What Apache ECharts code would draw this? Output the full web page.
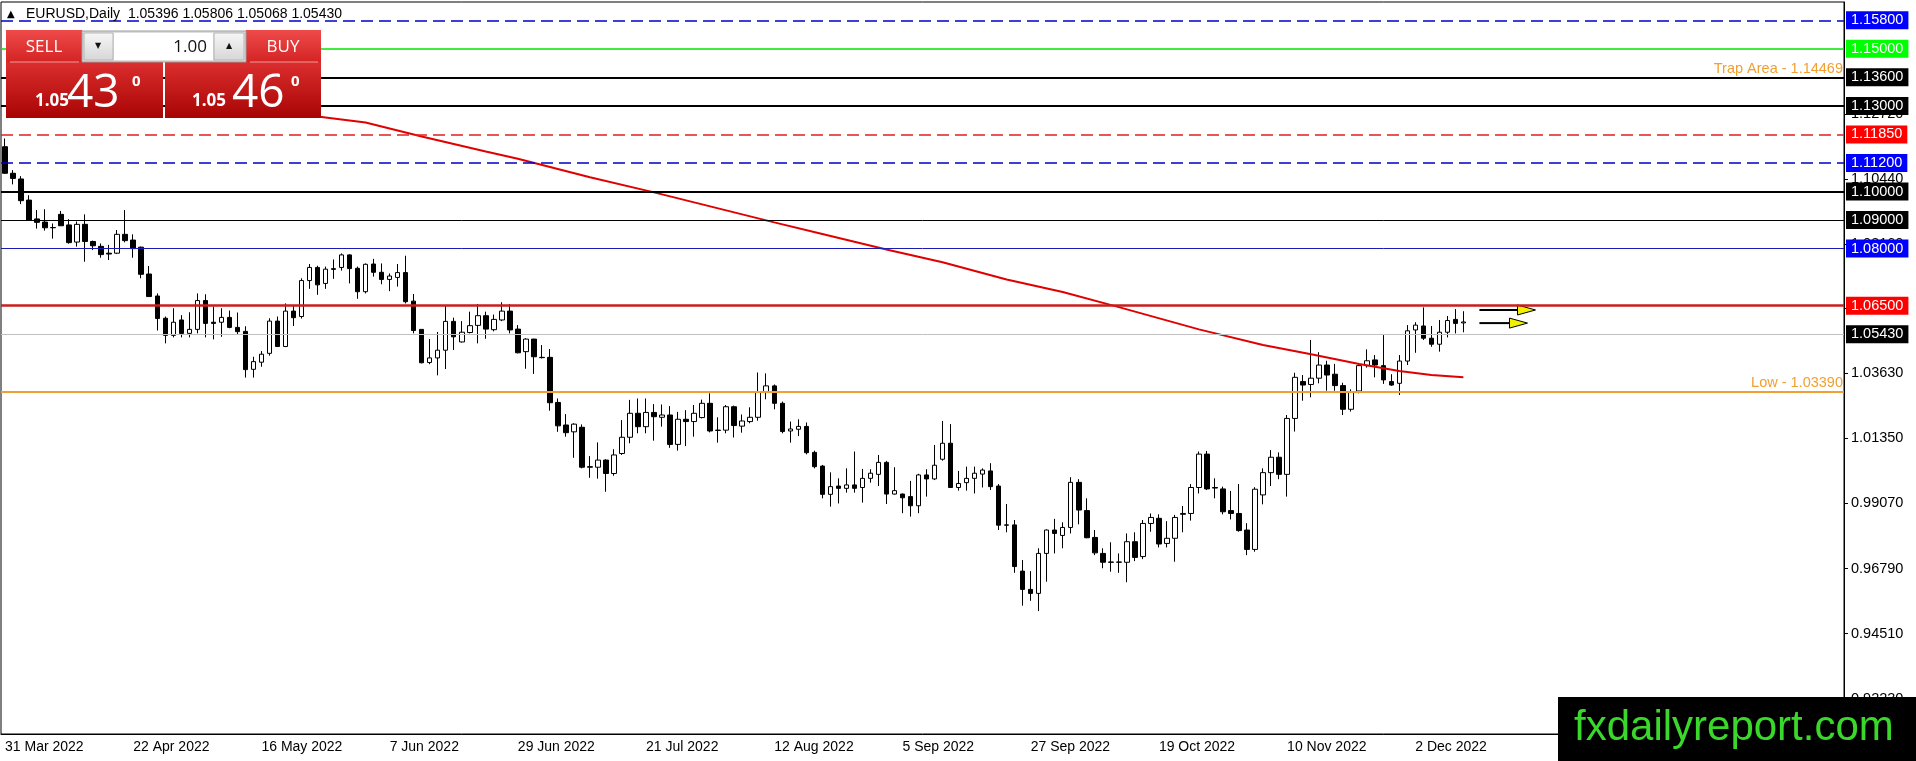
<!DOCTYPE html>
<html>
<head>
<meta charset="utf-8">
<title>EURUSD Daily</title>
<style>
  html, body { margin: 0; padding: 0; background: #fff; }
  #chart { width: 1916px; height: 761px; }
</style>
</head>
<body>
<div id="chart"></div>
<script src="https://cdn.jsdelivr.net/npm/echarts@6/dist/echarts.min.js"></script>
<script>
// daily bars (31 Mar 2022 .. Dec 2022)
var open = [
  1.1157,1.1064,1.1044,1.0970,1.0904,1.0893,1.0874,1.0920,1.0883,1.0823,
  1.0885,1.0825,1.0808,1.0784,1.0784,1.0850,1.0830,1.0805,1.0711,1.0634,
  1.0556,1.0496,1.0550,1.0503,1.0517,1.0618,1.0542,1.0542,1.0559,1.0524,
  1.0510,1.0377,1.0402,1.0433,1.0546,1.0457,1.0581,1.0562,1.0688,1.0734,
  1.0678,1.0727,1.0734,1.0778,1.0731,1.0649,1.0746,1.0717,1.0692,1.0699,
  1.0716,1.0616,1.0517,1.0401,1.0417,1.0444,1.0545,1.0473,1.0506,1.0531,
  1.0565,1.0516,1.0550,1.0581,1.0518,1.0439,1.0483,1.0419,1.0419,1.0261,
  1.0182,1.0158,1.0174,1.0036,1.0034,1.0059,1.0012,1.0082,1.0139,1.0223,
  1.0176,1.0226,1.0209,1.0217,1.0114,1.0202,1.0194,1.0208,1.0258,1.0164,
  1.0164,1.0246,1.0178,1.0194,1.0209,1.0296,1.0319,1.0258,1.0161,1.0167,
  1.0177,1.0086,1.0038,0.9939,0.9968,0.9960,0.9972,0.9963,0.9995,1.0009,
  1.0051,0.9940,0.9940,0.9931,0.9899,1.0007,0.9993,1.0062,1.0118,0.9963,
  0.9980,0.9995,1.0010,1.0021,0.9968,0.9832,0.9832,0.9670,0.9606,0.9592,
  0.9732,0.9814,0.9795,0.9823,0.9981,0.9882,0.9788,0.9732,0.9702,0.9701,
  0.9701,0.9773,0.9721,0.9837,0.9855,0.9767,0.9785,0.9869,0.9872,0.9963,
  1.0080,0.9963,0.9958,0.9882,0.9872,0.9814,0.9746,0.9937,1.0015,1.0069,
  1.0009,1.0205,1.0334,1.0324,1.0346,1.0392,1.0360,1.0320,1.0237,1.0301,
  1.0390,1.0410,1.0390,1.0334,1.0328,1.0406,1.0515,1.0529,1.0486,1.0465,
  1.0507,1.0552,1.05396
];
var high = [
  1.1186,1.1075,1.1054,1.0987,1.0935,1.0938,1.0888,1.0932,1.0903,1.0895,
  1.0920,1.0828,1.0818,1.0813,1.0865,1.0935,1.0850,1.0807,1.0739,1.0643,
  1.0562,1.0591,1.0567,1.0577,1.0643,1.0640,1.0597,1.0591,1.0583,1.0576,
  1.0528,1.0421,1.0441,1.0556,1.0562,1.0608,1.0599,1.0696,1.0746,1.0740,
  1.0737,1.0762,1.0783,1.0780,1.0737,1.0748,1.0764,1.0748,1.0713,1.0746,
  1.0775,1.0641,1.0518,1.0483,1.0508,1.0599,1.0558,1.0546,1.0579,1.0606,
  1.0579,1.0569,1.0612,1.0606,1.0532,1.0486,1.0484,1.0462,1.0448,1.0275,
  1.0220,1.0188,1.0184,1.0073,1.0121,1.0062,1.0097,1.0199,1.0270,1.0275,
  1.0275,1.0255,1.0254,1.0248,1.0228,1.0234,1.0252,1.0271,1.0293,1.0209,
  1.0252,1.0250,1.0219,1.0244,1.0366,1.0363,1.0324,1.0264,1.0194,1.0202,
  1.0191,1.0092,1.0042,1.0016,0.9995,1.0030,1.0089,1.0028,1.0027,1.0077,
  1.0056,1.0034,0.9942,0.9986,1.0011,1.0027,1.0112,1.0196,1.0185,1.0021,
  1.0036,1.0036,1.0030,1.0048,0.9975,0.9905,0.9849,0.9709,0.9670,0.9750,
  0.9816,0.9853,0.9841,0.9999,0.9992,0.9925,0.9814,0.9750,0.9771,0.9732,
  0.9802,0.9806,0.9849,0.9872,0.9869,0.9845,0.9867,0.9898,0.9975,1.0089,
  1.0091,0.9995,0.9966,0.9951,0.9975,0.9838,0.9964,1.0030,1.0094,1.0086,
  1.0217,1.0365,1.0357,1.0480,1.0437,1.0407,1.0396,1.0330,1.0307,1.0396,
  1.0447,1.0427,1.0497,1.0360,1.0427,1.0532,1.0542,1.0594,1.0529,1.0550,
  1.0564,1.0588,1.05806
];
var low = [
  1.1062,1.1025,1.0956,1.0899,1.0870,1.0863,1.0835,1.0880,1.0817,1.0807,
  1.0754,1.0795,1.0768,1.0760,1.0781,1.0822,1.0768,1.0696,1.0632,1.0513,
  1.0468,1.0489,1.0489,1.0489,1.0503,1.0489,1.0482,1.0491,1.0521,1.0500,
  1.0348,1.0348,1.0386,1.0425,1.0455,1.0455,1.0529,1.0555,1.0659,1.0638,
  1.0659,1.0694,1.0723,1.0678,1.0624,1.0643,1.0702,1.0675,1.0651,1.0667,
  1.0608,1.0503,1.0398,1.0395,1.0356,1.0378,1.0445,1.0471,1.0503,1.0468,
  1.0484,1.0510,1.0546,1.0503,1.0433,1.0379,1.0361,1.0415,1.0232,1.0158,
  1.0141,1.0067,1.0030,0.9997,0.9994,0.9948,1.0004,1.0077,1.0118,1.0153,
  1.0153,1.0127,1.0176,1.0102,1.0092,1.0108,1.0141,1.0205,1.0156,1.0120,
  1.0153,1.0138,1.0155,1.0188,1.0197,1.0272,1.0237,1.0153,1.0120,1.0143,
  1.0079,1.0030,0.9925,0.9896,0.9907,0.9945,0.9945,0.9910,0.9980,0.9968,
  0.9905,0.9938,0.9873,0.9861,0.9873,0.9931,0.9989,1.0057,0.9963,0.9952,
  0.9952,0.9942,0.9963,0.9954,0.9814,0.9806,0.9664,0.9549,0.9566,0.9530,
  0.9633,0.9732,0.9750,0.9802,0.9834,0.9785,0.9726,0.9680,0.9668,0.9664,
  0.9631,0.9705,0.9712,0.9808,0.9753,0.9753,0.9703,0.9806,0.9847,0.9942,
  0.9954,0.9925,0.9869,0.9851,0.9808,0.9726,0.9738,0.9904,0.9968,0.9992,
  0.9931,1.0159,1.0267,1.0279,1.0328,1.0302,1.0302,1.0217,1.0229,1.0293,
  1.0383,1.0349,1.0326,1.0319,1.0287,1.0392,1.0435,1.0480,1.0456,1.0439,
  1.0489,1.0503,1.05068
];
var close = [
  1.1064,1.1046,1.0968,1.0900,1.0892,1.0873,1.0873,1.0880,1.0821,1.0885,
  1.0825,1.0810,1.0779,1.0781,1.0850,1.0828,1.0800,1.0710,1.0632,1.0555,
  1.0496,1.0542,1.0503,1.0517,1.0618,1.0538,1.0538,1.0559,1.0524,1.0509,
  1.0376,1.0404,1.0430,1.0546,1.0457,1.0581,1.0558,1.0688,1.0734,1.0673,
  1.0728,1.0730,1.0778,1.0730,1.0649,1.0745,1.0717,1.0692,1.0704,1.0716,
  1.0614,1.0513,1.0400,1.0417,1.0444,1.0545,1.0491,1.0507,1.0530,1.0565,
  1.0518,1.0552,1.0581,1.0515,1.0435,1.0483,1.0421,1.0418,1.0260,1.0179,
  1.0155,1.0185,1.0034,1.0034,1.0059,1.0012,1.0077,1.0139,1.0223,1.0176,
  1.0226,1.0211,1.0217,1.0114,1.0202,1.0194,1.0223,1.0258,1.0161,1.0163,
  1.0246,1.0180,1.0196,1.0209,1.0296,1.0319,1.0258,1.0159,1.0168,1.0177,
  1.0085,1.0036,0.9939,0.9966,0.9960,0.9972,0.9960,0.9995,1.0013,1.0051,
  0.9940,0.9952,0.9927,0.9899,1.0007,0.9993,1.0041,1.0118,0.9963,0.9977,
  0.9995,1.0013,1.0024,0.9966,0.9831,0.9831,0.9686,0.9606,0.9592,0.9732,
  0.9814,0.9802,0.9823,0.9981,0.9884,0.9787,0.9734,0.9701,0.9701,0.9702,
  0.9773,0.9718,0.9837,0.9858,0.9765,0.9785,0.9858,0.9872,0.9963,1.0080,
  0.9958,0.9961,0.9878,0.9872,0.9812,0.9746,0.9957,1.0015,1.0069,1.0009,
  1.0205,1.0349,1.0322,1.0346,1.0392,1.0357,1.0320,1.0237,1.0299,1.0390,
  1.0407,1.0392,1.0340,1.0322,1.0406,1.0512,1.0532,1.0486,1.0465,1.0507,
  1.0548,1.0538,1.05430
];

// moving average, points (bar index, price)
var maBar   = [38, 40, 45, 52, 60, 64, 73, 81, 96, 102, 110, 117, 125, 132, 139, 149, 157, 163, 169, 174, 178, 182];
var maValue = [1.1266, 1.1259, 1.1242, 1.1193, 1.1140, 1.1115, 1.1050, 1.0997, 1.0892, 1.0851, 1.0797,
               1.0752, 1.0692, 1.0648, 1.0595, 1.0517, 1.0462, 1.0430, 1.0396, 1.0371, 1.0357, 1.0349];

// date labels, one every 16 bars
var dateLabels = ['31 Mar 2022', '22 Apr 2022', '16 May 2022', '7 Jun 2022', '29 Jun 2022', '21 Jul 2022',
                  '12 Aug 2022', '5 Sep 2022', '27 Sep 2022', '19 Oct 2022', '10 Nov 2022', '2 Dec 2022'];

// price scale ticks
var priceTicks = [1.1272, 1.1044, 1.0816, 1.0591, 1.0363, 1.0135, 0.9907, 0.9679, 0.9451, 0.9223];

// horizontal levels drawn on the chart
var levelPrice = [1.158, 1.15, 1.14469, 1.136, 1.13, 1.1185, 1.112, 1.10, 1.09, 1.08, 1.065, 1.0543, 1.0339];
var levelText  = ['1.15800', '1.15000', 'Trap Area - 1.14469', '1.13600', '1.13000', '1.11850', '1.11200',
                  '1.10000', '1.09000', '1.08000', '1.06500', '1.05430', 'Low - 1.03390'];

// arrows after the last bar: [from bar, to bar, price]
var arrows = [[184, 191, 1.0585], [184, 190, 1.0539]];

var FONT = 'Liberation Sans';
var SLOTS = 230;   // bars + empty space on the right (chart shift)

var slots = [];
for (var i = 0; i < SLOTS; i++) slots.push('b' + i);

var candles = open.map(function (o, i) { return [o, close[i], low[i], high[i]]; });
var maData = maBar.map(function (b, i) { return [b, maValue[i]]; });

// styles for the level lines
var lineColor = ['#0000c8', '#00e600', '#f0a030', '#000', '#000', '#e02020', '#0000c8', '#000', '#000', '#1a1ab4', '#c81e1e', '#c0c0c0', '#f0a030'];
var lineWidth = [1.5, 1.5, 2, 2, 2, 1.5, 1.5, 2, 1, 1, 2.5, 1, 2];
var lineDash  = [true, false, false, false, false, true, true, false, false, false, false, false, false];
var boxColor  = ['#0000ff', '#00ff00', null, '#000', '#000', '#ff0000', '#0000ff', '#000', '#000', '#0000ff', '#ff0000', '#000', null];

var levelLines = levelPrice.map(function (p, i) {
  var lbl;
  if (boxColor[i]) {
    lbl = { show: true, position: 'end', distance: 2, formatter: levelText[i], color: '#fff',
            backgroundColor: boxColor[i], padding: [2, 5, 1, 5], fontSize: 14.5, fontFamily: FONT };
  } else {
    lbl = { show: true, position: 'insideEndTop', distance: 1, formatter: levelText[i], color: '#f0a030',
            fontSize: 14.5, fontFamily: FONT };
  }
  return {
    yAxis: p,
    lineStyle: { color: lineColor[i], width: lineWidth[i], type: lineDash[i] ? [12, 6] : 'solid' },
    label: lbl
  };
});

// y = 26px at 1.158, 2854 px per unit
var yMax = 1.158 + 24 / 2854;
var yMin = 1.158 - 708 / 2854;

function showDate(idx) { return idx % 16 === 0 && idx / 16 < dateLabels.length; }

function grad(c1, c2) {
  return { type: 'linear', x: 0, y: 0, x2: 0, y2: 1, colorStops: [{ offset: 0, color: c1 }, { offset: 1, color: c2 }] };
}

var PF = 'Open Sans';
var panel = [
  { type: 'rect', shape: { x: 6, y: 30, width: 76, height: 32 }, style: { fill: grad('#ef4a4a', '#d42424') } },
  { type: 'rect', shape: { x: 246, y: 30, width: 75, height: 32 }, style: { fill: grad('#ef4a4a', '#d42424') } },
  { type: 'rect', shape: { x: 6, y: 62, width: 157, height: 56 }, style: { fill: grad('#dc2e2e', '#a80404') } },
  { type: 'rect', shape: { x: 165, y: 62, width: 156, height: 56 }, style: { fill: grad('#dc2e2e', '#a80404') } },
  { type: 'line', shape: { x1: 10, y1: 62, x2: 79, y2: 62 }, style: { stroke: '#f19a9a', lineWidth: 1 } },
  { type: 'line', shape: { x1: 250, y1: 62, x2: 318, y2: 62 }, style: { stroke: '#f19a9a', lineWidth: 1 } },
  { type: 'rect', shape: { x: 82, y: 31, width: 164, height: 31 }, style: { fill: '#dedede', stroke: '#9a9a9a' } },
  { type: 'rect', shape: { x: 84, y: 33, width: 29, height: 27 }, style: { fill: grad('#f7f7f7', '#d6d6d6'), stroke: '#b4b4b4' } },
  { type: 'rect', shape: { x: 114, y: 33, width: 99, height: 27 }, style: { fill: '#fff' } },
  { type: 'rect', shape: { x: 214, y: 33, width: 30, height: 27 }, style: { fill: grad('#f7f7f7', '#d6d6d6'), stroke: '#b4b4b4' } },
  { type: 'text', style: { x: 44, y: 47, text: 'SELL', fill: '#fff', font: '17px "' + PF + '"', textAlign: 'center', textVerticalAlign: 'middle' } },
  { type: 'text', style: { x: 283, y: 47, text: 'BUY', fill: '#fff', font: '17px "' + PF + '"', textAlign: 'center', textVerticalAlign: 'middle' } },
  { type: 'text', style: { x: 98, y: 46, text: '▼', fill: '#111', font: '8px "DejaVu Sans"', textAlign: 'center', textVerticalAlign: 'middle' } },
  { type: 'text', style: { x: 229, y: 46, text: '▲', fill: '#111', font: '8px "DejaVu Sans"', textAlign: 'center', textVerticalAlign: 'middle' } },
  { type: 'text', style: { x: 207, y: 47, text: '1.00', fill: '#111', font: '17px "' + PF + '"', textAlign: 'right', textVerticalAlign: 'middle' } },
  { type: 'text', style: { x: 35, y: 101, text: '1.05', fill: '#fff', font: 'bold 17px "' + PF + '"', textAlign: 'left', textVerticalAlign: 'middle' } },
  { type: 'text', style: { x: 67, y: 94, text: '43', fill: '#fff', font: '46px "' + PF + '"', textAlign: 'left', textVerticalAlign: 'middle' } },
  { type: 'text', style: { x: 132, y: 82, text: '0', fill: '#fff', font: 'bold 15px "' + PF + '"', textAlign: 'left', textVerticalAlign: 'middle' } },
  { type: 'text', style: { x: 192, y: 101, text: '1.05', fill: '#fff', font: 'bold 17px "' + PF + '"', textAlign: 'left', textVerticalAlign: 'middle' } },
  { type: 'text', style: { x: 232, y: 94, text: '46', fill: '#fff', font: '46px "' + PF + '"', textAlign: 'left', textVerticalAlign: 'middle' } },
  { type: 'text', style: { x: 291, y: 82, text: '0', fill: '#fff', font: 'bold 15px "' + PF + '"', textAlign: 'left', textVerticalAlign: 'middle' } },
  // chart header
  { type: 'text', style: { x: 7, y: 14, text: '▲', fill: '#000', font: '10px "DejaVu Sans"', textAlign: 'left', textVerticalAlign: 'middle' } },
  { type: 'text', style: { x: 26, y: 14, text: 'EURUSD,Daily  1.05396 1.05806 1.05068 1.05430', fill: '#000', font: '14px "' + FONT + '"', textAlign: 'left', textVerticalAlign: 'middle' } },
  // watermark
  { type: 'rect', shape: { x: 1558, y: 697, width: 358, height: 64 }, style: { fill: '#000' } },
  { type: 'text', style: { x: 1574, y: 728, text: 'fxdailyreport.com', fill: '#3ad82a', font: '42px "Liberation Sans"', textAlign: 'left', textVerticalAlign: 'middle' } }
];
panel.forEach(function (el) { el.z = 100; el.silent = true; });

var chart = echarts.init(document.getElementById('chart'));

var option = {
  animation: false,
  backgroundColor: '#fff',
  grid: { left: 1, right: 72, top: 2, bottom: 27, show: true, borderColor: '#000', borderWidth: 1, backgroundColor: '#fff' },
  xAxis: {
    type: 'category',
    data: slots,
    boundaryGap: true,
    axisLine: { lineStyle: { color: '#000', width: 1 } },
    axisTick: { alignWithLabel: true, length: 4, interval: showDate, lineStyle: { color: '#000' } },
    axisLabel: {
      interval: showDate,
      formatter: function (v, idx) { return dateLabels[idx / 16] || ''; },
      align: 'left', color: '#000', fontSize: 14, fontFamily: FONT, margin: 6
    },
    splitLine: { show: false }
  },
  yAxis: {
    type: 'value',
    position: 'right',
    min: yMin,
    max: yMax,
    axisLine: { show: true, lineStyle: { color: '#000', width: 1 } },
    axisTick: { show: true, length: 4, customValues: priceTicks, lineStyle: { color: '#000' } },
    axisLabel: {
      customValues: priceTicks,
      formatter: function (v) { return v.toFixed(5); },
      color: '#000', fontSize: 14.5, fontFamily: FONT, margin: 7
    },
    splitLine: { show: false }
  },
  series: [
    {
      type: 'candlestick',
      data: candles,
      barWidth: 5,
      itemStyle: { color: '#fff', color0: '#000', borderColor: '#000', borderColor0: '#000', borderWidth: 1 },
      markLine: { silent: true, symbol: ['none', 'none'], animation: false, data: levelLines }
    },
    {
      type: 'line',
      data: maData,
      showSymbol: false,
      symbol: 'none',
      lineStyle: { color: '#e00000', width: 2 },
      z: 3
    },
    {
      type: 'custom',
      data: arrows,
      encode: { x: [0, 1], y: 2 },
      z: 4,
      renderItem: function (params, api) {
        var p0 = api.coord([api.value(0), api.value(2)]);
        var p1 = api.coord([api.value(1), api.value(2)]);
        var head = 18, half = 5;
        return {
          type: 'group',
          children: [
            { type: 'line', shape: { x1: p0[0], y1: p0[1], x2: p1[0] - head, y2: p0[1] },
              style: { stroke: '#000', lineWidth: 2 } },
            { type: 'polygon', shape: { points: [[p1[0] - head, p1[1] - half], [p1[0], p1[1]], [p1[0] - head, p1[1] + half]] },
              style: { fill: '#f2f000', stroke: '#000', lineWidth: 1 } }
          ]
        };
      }
    }
  ],
  graphic: panel
};

chart.setOption(option);
</script>
</body>
</html>
